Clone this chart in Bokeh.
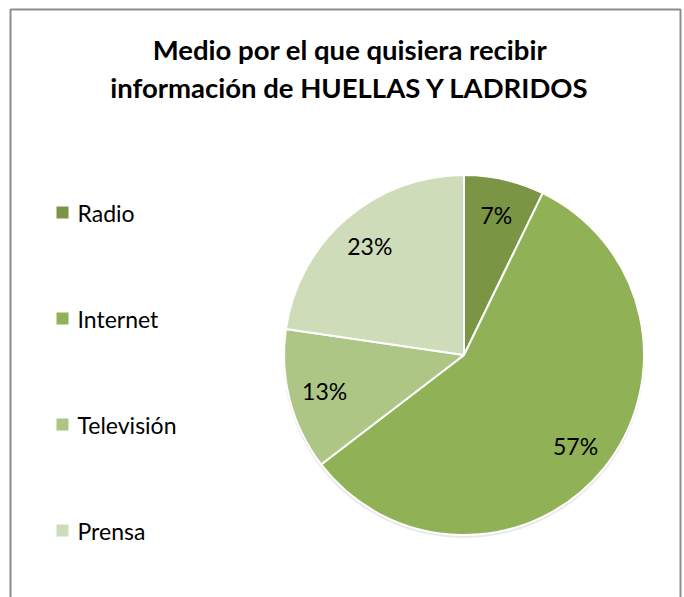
import math
from bokeh.plotting import figure
from bokeh.models import Range1d, ColumnDataSource
from bokeh.core.properties import value
from bokeh.embed import file_html
from bokeh.resources import INLINE

# ---- data ----
categories = ["Radio", "Internet", "Televisión", "Prensa"]
shares = [7.2, 57.4, 12.7, 22.7]
pct_labels = ["7%", "57%", "13%", "23%"]
colors = ["#7A9544", "#91B156", "#AEC685", "#CEDCBA"]
title_lines = ["Medio por el que quisiera recibir", "información de HUELLAS Y LADRIDOS"]

W, H = 684, 597
p = figure(width=W, height=H, output_backend="svg", toolbar_location=None,
           x_range=Range1d(0, W), y_range=Range1d(0, H), min_border=0)
p.axis.visible = False
p.grid.visible = False
p.outline_line_color = None
p.background_fill_color = "white"
p.border_fill_color = "white"

FONT = value("Lato")

def py(page_y):
    return H - page_y

# chart frame
p.quad(left=[10], right=[680], top=[py(9)], bottom=[-20], fill_color=None,
       line_color="#8C8C8C", line_width=2)

# title
p.text(x=[349.5, 349.5], y=[py(49), py(87)], text=title_lines,
       text_font=FONT, text_font_style="bold", text_font_size="27.5px",
       text_align="center", text_baseline="middle", text_color="#000000")

# pie
cx, cy, R = 463.5, py(354.5), 180
total = sum(shares)
starts, ends, mids = [], [], []
cum = 0.0
for s in shares:
    a0 = math.pi / 2 - 2 * math.pi * cum / total
    cum += s
    a1 = math.pi / 2 - 2 * math.pi * cum / total
    starts.append(a0)
    ends.append(a1)
    mids.append((a0 + a1) / 2)

# subtle shadow
p.circle(x=[cx], y=[cy - 2], radius=R + 1, fill_color="#D9D9D9", fill_alpha=0.6,
         line_color=None)
src = ColumnDataSource(dict(start=starts, end=ends, color=colors, cat=categories))
p.wedge(x=cx, y=cy, radius=R, start_angle="start", end_angle="end",
        direction="clock", fill_color="color", line_color="white", line_width=2,
        source=src)

lr = 0.80 * R
lx = [cx + lr * math.cos(m) for m in mids]
ly = [cy + lr * math.sin(m) for m in mids]
p.text(x=lx, y=ly, text=pct_labels, text_font=FONT, text_font_size="23px",
       text_align="center", text_baseline="middle", text_color="#000000")

# legend
leg_y = [py(212 + 106 * i) for i in range(len(categories))]
p.rect(x=[62] * len(categories), y=leg_y, width=12, height=12,
       width_units="screen", height_units="screen", fill_color=colors, line_color=None)
p.text(x=[77] * len(categories), y=leg_y, text=categories, text_font=FONT,
       text_font_size="23px", text_align="left", text_baseline="middle",
       text_color="#000000")

open("out.html", "w").write(file_html(p, INLINE))
